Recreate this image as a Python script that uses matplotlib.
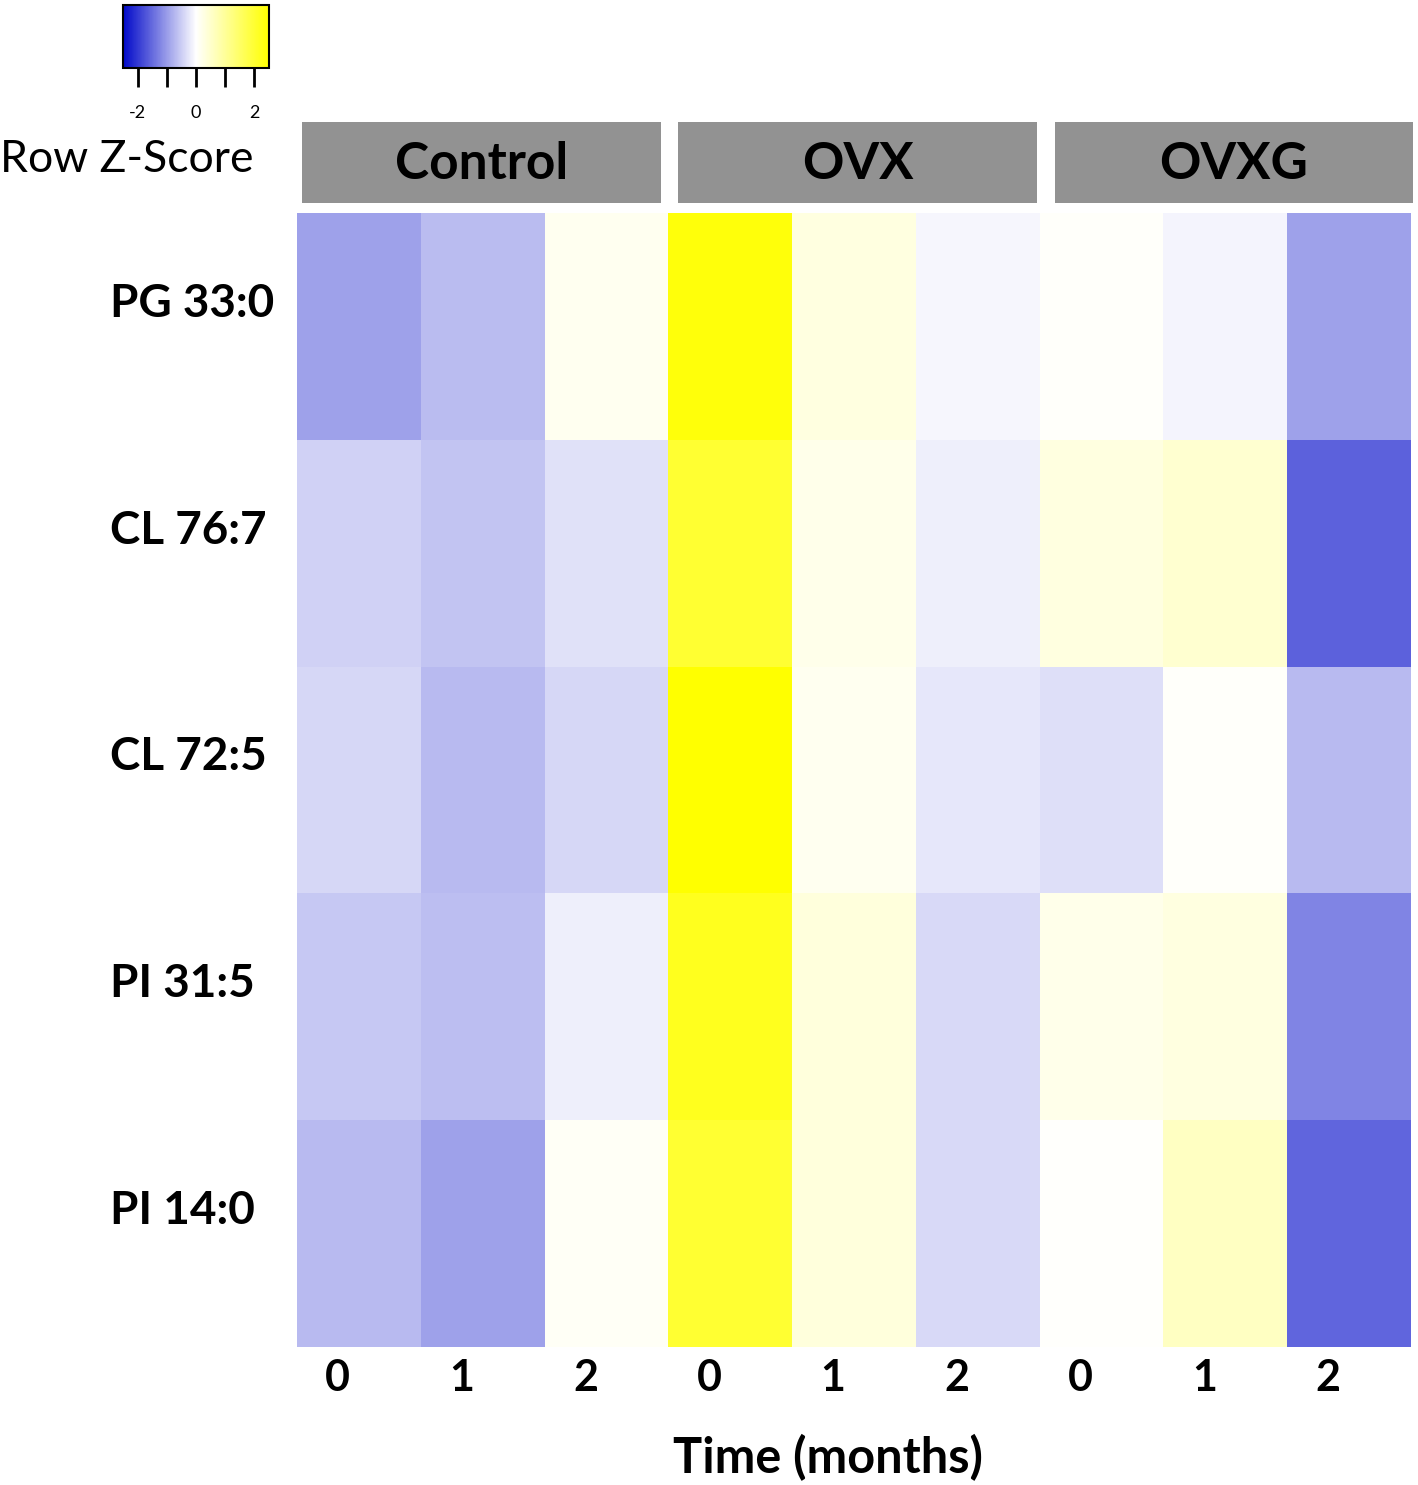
import numpy as np
import matplotlib
matplotlib.use("Agg")
import matplotlib.pyplot as plt
from matplotlib.colors import LinearSegmentedColormap, Normalize
from matplotlib.patches import Rectangle
from matplotlib import transforms
from matplotlib.cm import ScalarMappable

# ---------------- data ----------------
groups = ["Control", "OVX", "OVXG"]
times = ["0", "1", "2"]
lipids = ["PG 33:0", "CL 76:7", "CL 72:5", "PI 31:5", "PI 14:0"]

# Row Z-scores: Control(0,1,2), OVX(0,1,2), OVXG(0,1,2)
pg_33_0 = [-0.95, -0.68, 0.15, 2.40, 0.30, -0.08, 0.05, -0.10, -0.95]
cl_76_7 = [-0.45, -0.60, -0.30, 2.00, 0.20, -0.17, 0.30, 0.45, -1.60]
cl_72_5 = [-0.40, -0.70, -0.40, 2.50, 0.15, -0.25, -0.33, 0.05, -0.70]
pi_31_5 = [-0.55, -0.65, -0.17, 2.20, 0.35, -0.38, 0.20, 0.30, -1.25]
pi_14_0 = [-0.70, -0.95, 0.08, 2.00, 0.35, -0.38, 0.02, 0.60, -1.55]

cbar_ticks = [-2, -1, 0, 1, 2]
cbar_ticklabels = ["-2", "", "0", "", "2"]

Z = np.array([pg_33_0, cl_76_7, cl_72_5, pi_31_5, pi_14_0])

# ---------------- figure ----------------
W, H = 1418, 1485
fig = plt.figure(figsize=(W / 100, H / 100), dpi=100)
FONT = ["Lato", "DejaVu Sans"]


def box(x0, y0, x1, y1):
    return [x0 / W, 1 - y1 / H, (x1 - x0) / W, (y1 - y0) / H]


cmap = LinearSegmentedColormap.from_list("bwy", ["#0008C8", "#FFFFFF", "#FFFF00"])
norm = Normalize(vmin=-2.5, vmax=2.5)

ax = fig.add_axes(box(297, 213, 1411, 1347))
ncol = Z.shape[1]
nrow = Z.shape[0]
ax.pcolormesh(np.arange(ncol + 1), np.arange(nrow + 1), Z, cmap=cmap, norm=norm)
ax.set_xlim(0, ncol)
ax.set_ylim(nrow, 0)
ax.set_axis_off()

# row labels
tr_row = transforms.blended_transform_factory(fig.transFigure, ax.transData)
for i, lab in enumerate(lipids):
    ax.text(110 / W, i + 0.40, lab, transform=tr_row, ha="left", va="center",
            fontsize=33, fontweight="bold", family=FONT)

# column labels
tr_col = transforms.blended_transform_factory(ax.transData, fig.transFigure)
col_labels = times * len(groups)
for j, lab in enumerate(col_labels):
    ax.text(j + 0.5 - 0.17, 1 - 1378 / H, lab, transform=tr_col, ha="center",
            va="center", fontsize=31, fontweight="bold", family=FONT)

fig.text(828 / W, 1 - 1458 / H, "Time (months)", ha="center", va="center",
         fontsize=35, fontweight="bold", family=FONT)

# group headers
hax = fig.add_axes(box(297, 122, 1411, 203))
hax.set_xlim(0, ncol)
hax.set_ylim(0, 1)
hax.set_axis_off()
for g, name in enumerate(groups):
    c = 1.49 + g * 3.04
    hax.add_patch(Rectangle((c - 1.45, 0), 2.90, 1, facecolor="#929292",
                            edgecolor="none", clip_on=False))
    hax.text(c, 0.47, name, ha="center", va="center", fontsize=37,
             fontweight="bold", family=FONT)

# colour key
cax = fig.add_axes(box(123, 5, 269, 68))
cb = fig.colorbar(ScalarMappable(norm=norm, cmap=cmap), cax=cax,
                  orientation="horizontal", ticks=cbar_ticks)
cb.set_ticklabels(cbar_ticklabels)
cax.tick_params(length=14, width=2, labelsize=13, pad=13)
for t in cax.get_xticklabels():
    t.set_family(FONT)
cb.outline.set_linewidth(1.5)

fig.text(0, 1 - 160 / H, "Row Z-Score", ha="left", va="center", fontsize=32,
         family=FONT)

fig.savefig("out.png", dpi=100)
